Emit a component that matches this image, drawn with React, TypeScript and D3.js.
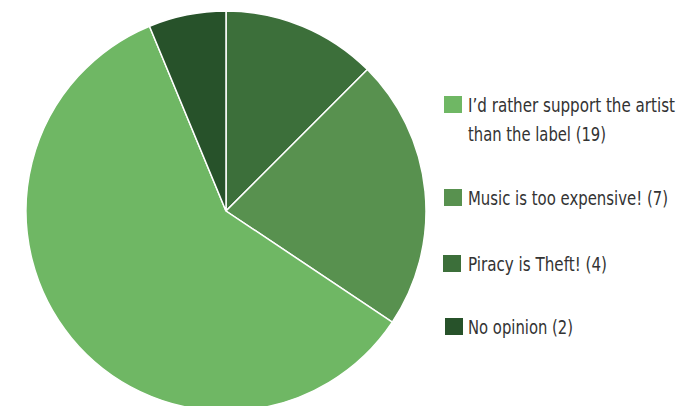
import React from "react";
import * as d3 from "d3";

const categories = ["Piracy is Theft!", "Music is too expensive!", "I’d rather support the artist than the label", "No opinion"];
const values = [4, 7, 19, 2];
const colors = ["#3c6f3a", "#58914f", "#6fb764", "#27522a"];
const legendOrder = [2, 1, 0, 3];
const legendLines = [
  ["I’d rather support the artist", "than the label (19)"],
  ["Music is too expensive! (7)"],
  ["Piracy is Theft! (4)"],
  ["No opinion (2)"],
];
const legendWidths = [[207, 138], [200], [139], [105]];

export default function App() {
  const W = 676, H = 406;
  const cx = 226, cy = 211, r = 200;
  const pie = d3.pie<number>().sort(null).value((d) => d);
  const arcs = pie(values);
  const arc = d3.arc<d3.PieArcDatum<number>>().innerRadius(0).outerRadius(r);
  const legendY = [96, 189, 255, 318];
  const legendX = [444, 444, 443, 445];
  return (
    <svg width={W} height={H} style={{ position: "absolute", left: 0, top: 0 }}>
      <rect width={W} height={H} fill="#fff" />
      <g transform={`translate(${cx},${cy})`}>
        {arcs.map((a, i) => (
          <path key={i} d={arc(a) || ""} fill={colors[i]} stroke="#fff" strokeWidth={1.5} />
        ))}
      </g>
      {legendOrder.map((ci, k) => (
        <g key={k}>
          <rect x={legendX[k]} y={legendY[k]} width={18} height={17} fill={colors[ci]} />
          {legendLines[k].map((t, j) => (
            <text
              key={j}
              x={468}
              y={legendY[k] + 16 + j * 29}
              fontFamily="'DejaVu Sans Condensed', 'DejaVu Sans', sans-serif"
              fontStretch="condensed"
              fontSize={20}
              fill="#333"
              textLength={legendWidths[k][j]}
              lengthAdjust="spacingAndGlyphs"
            >
              {t}
            </text>
          ))}
        </g>
      ))}
    </svg>
  );
}
